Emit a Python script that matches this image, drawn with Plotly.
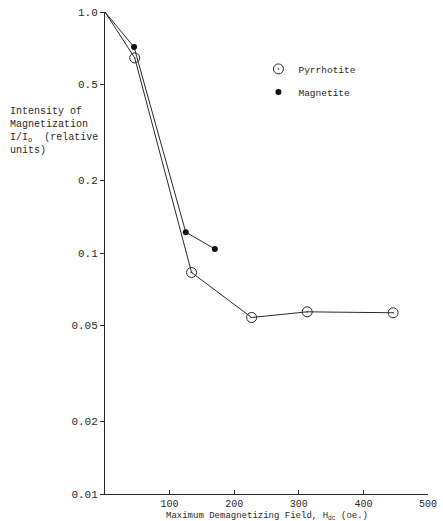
import plotly.graph_objects as go

# Data
pyr_field = [0, 46, 134, 227, 313, 446]
pyr_int = [1.0, 0.645, 0.083, 0.054, 0.057, 0.0565]
mag_field = [0, 45, 125, 170]
mag_int = [1.0, 0.715, 0.122, 0.104]

y_ticks = [0.01, 0.02, 0.05, 0.1, 0.2, 0.5, 1.0]
y_ticktext = ["0.01", "0.02", "0.05", "0.1", "0.2", "0.5", "1.0"]
x_ticks = [100, 200, 300, 400, 500]

FONT = "Liberation Mono, Courier New, monospace"
INK = "#2a2a2a"

fig = go.Figure()
fig.add_trace(go.Scatter(x=pyr_field, y=pyr_int, mode="lines",
                         line=dict(color=INK, width=1), showlegend=False, hoverinfo="skip"))
fig.add_trace(go.Scatter(x=mag_field, y=mag_int, mode="lines",
                         line=dict(color=INK, width=1), showlegend=False, hoverinfo="skip"))
fig.add_trace(go.Scatter(x=pyr_field[1:], y=pyr_int[1:], mode="markers", name="Pyrrhotite",
                         legendgroup="a",
                         marker=dict(symbol="circle-open-dot", size=10, color=INK,
                                     line=dict(width=1, color=INK))))
fig.add_trace(go.Scatter(x=mag_field[1:], y=mag_int[1:], mode="markers", name="Magnetite",
                         legendgroup="b",
                         marker=dict(symbol="circle", size=6, color="#111")))

fig.update_layout(
    width=443, height=521,
    margin=dict(l=105, r=6, t=12, b=27),
    paper_bgcolor="white", plot_bgcolor="white",
    font=dict(family=FONT, size=11, color=INK),
    legend=dict(x=0.475, y=0.912, xanchor="left", yanchor="top",
                bgcolor="rgba(0,0,0,0)", font=dict(size=9.5, family=FONT, color=INK),
                itemwidth=30, tracegroupgap=4),
    xaxis=dict(range=[0, 500], showline=True, linecolor=INK, linewidth=1,
               showgrid=False, zeroline=False, ticks="inside", ticklen=4,
               tickcolor=INK, tickvals=x_ticks, ticktext=[str(v) for v in x_ticks],
               tickfont=dict(size=10), ticklabeloverflow="allow"),
    yaxis=dict(type="log", range=[-2, 0], showline=True, linecolor=INK, linewidth=1,
               showgrid=False, zeroline=False, ticks="outside", ticklen=4,
               tickcolor=INK, tickvals=y_ticks, ticktext=y_ticktext,
               ticklabeloverflow="allow"),
    showlegend=True,
)

fig.add_annotation(
    text="Maximum Demagnetizing Field, H<sub>dc</sub> (oe.)",
    xref="paper", yref="paper", x=0.50, y=-0.031, xanchor="center", yanchor="top",
    showarrow=False, font=dict(family=FONT, size=9, color=INK))
fig.add_annotation(
    text="Intensity of<br>Magnetization<br>I/I<sub>o</sub>  (relative<br>units)",
    xref="paper", yref="paper", x=-0.30, y=0.81, xanchor="left", yanchor="top",
    align="left", showarrow=False, font=dict(family=FONT, size=10, color=INK))

fig.write_html("out.html", config={"displayModeBar": False},
               post_script="document.body.style.margin='0';document.body.style.overflow='hidden';")
